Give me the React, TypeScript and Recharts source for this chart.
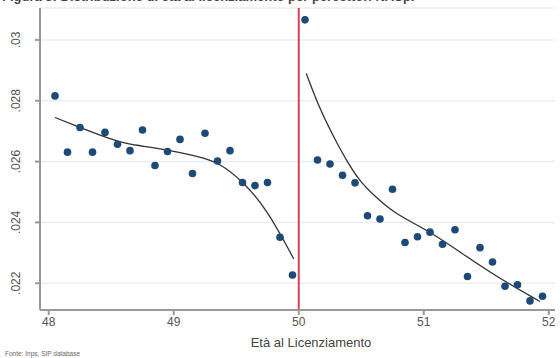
// Scatter per età al licenziamento, con fit ai due lati della soglia di 50 anni.
import { ComposedChart, CartesianGrid, Line, ReferenceLine, Scatter, XAxis, YAxis } from 'recharts';

const leftAges = [48.05, 48.15, 48.25, 48.35, 48.45, 48.55, 48.65, 48.75, 48.85, 48.95, 49.05, 49.15, 49.25, 49.35, 49.45, 49.55, 49.65, 49.75, 49.85, 49.95];
const leftValues = [0.02816, 0.02631, 0.02712, 0.02631, 0.02696, 0.02657, 0.02636, 0.02704, 0.02587, 0.02633, 0.02673, 0.02561, 0.02693, 0.02602, 0.02636, 0.02531, 0.02521, 0.02531, 0.02351, 0.02227];
const rightAges = [50.05, 50.15, 50.25, 50.35, 50.45, 50.55, 50.65, 50.75, 50.85, 50.95, 51.05, 51.15, 51.25, 51.35, 51.45, 51.55, 51.65, 51.75, 51.85, 51.95];
const rightValues = [0.03066, 0.02605, 0.02592, 0.02555, 0.0253, 0.02422, 0.02411, 0.02509, 0.02334, 0.02353, 0.02368, 0.02328, 0.02376, 0.02222, 0.02317, 0.0227, 0.0219, 0.02195, 0.02142, 0.02157];

// curve di fit
const fitLeftAges = [48.05, 48.2, 48.4, 48.6, 48.8, 48.95, 49.21, 49.36, 49.56, 49.75, 49.96];
const fitLeftValues = [0.02745, 0.0272, 0.02688, 0.02659, 0.02648, 0.02638, 0.02616, 0.02597, 0.02533, 0.0244, 0.0228];
const fitRightAges = [50.06, 50.16, 50.28, 50.4, 50.5, 50.6, 50.76, 51.03, 51.3, 51.56, 51.93];
const fitRightValues = [0.0289, 0.0278, 0.0268, 0.0259, 0.0253, 0.0249, 0.0243, 0.02375, 0.023, 0.02227, 0.0214];

const xTicks = [48, 49, 50, 51, 52];
const yTicks = [0.022, 0.024, 0.026, 0.028, 0.03];
const yLabels = ['.022', '.024', '.026', '.028', '.03'];

const points = [...leftAges.map((x, i) => ({ x, y: leftValues[i] })), ...rightAges.map((x, i) => ({ x, y: rightValues[i] }))];
const fitLeft = fitLeftAges.map((x, i) => ({ x, y: fitLeftValues[i] }));
const fitRight = fitRightAges.map((x, i) => ({ x, y: fitRightValues[i] }));

const font = '"Liberation Sans", Arial, sans-serif';

function YTick({ x, y, payload }: any) {
  const i = yTicks.indexOf(payload.value);
  const cx = x - 13;
  return (
    <text x={cx} y={y} transform={`rotate(-90, ${cx}, ${y})`} textAnchor="middle" fontSize={12} fill="#555" fontFamily={font}>
      {yLabels[i] ?? payload.value}
    </text>
  );
}

export default function App() {
  return (
    <div style={{ position: 'absolute', left: 0, top: 0, width: 560, height: 358, background: '#fff', overflow: 'hidden', fontFamily: font }}>
      <div style={{ position: 'absolute', left: 2, top: -11, fontSize: 13, fontWeight: 'bold', color: '#444', whiteSpace: 'nowrap' }}>
        Figura 3: Distribuzione di età al licenziamento per percettori NASpI
      </div>
      <ComposedChart width={560} height={358} margin={{ top: 8, right: 5, left: 0, bottom: 18 }}>
        <CartesianGrid vertical={false} horizontal stroke="#e8eff2" strokeWidth={1.5} />
        <XAxis
          type="number"
          dataKey="x"
          domain={[47.93, 52.05]}
          ticks={xTicks}
          allowDataOverflow
          height={30}
          tick={{ fontSize: 12, fill: '#555', fontFamily: font }}
          tickSize={5}
          stroke="#999"
          strokeWidth={2}
          tickMargin={2}
        />
        <YAxis
          type="number"
          dataKey="y"
          domain={[0.02112, 0.03105]}
          ticks={yTicks}
          allowDataOverflow
          width={40}
          tick={<YTick />}
          tickSize={5}
          stroke="#999"
          strokeWidth={2}
        />
        <ReferenceLine x={50} stroke="#d8405a" strokeWidth={2} />
        <Line data={fitLeft} dataKey="y" type="basis" stroke="#333" strokeWidth={1.3} dot={false} isAnimationActive={false} />
        <Line data={fitRight} dataKey="y" type="basis" stroke="#333" strokeWidth={1.3} dot={false} isAnimationActive={false} />
        <Scatter data={points} dataKey="y" fill="#1d4a78" isAnimationActive={false} shape={(p: any) => <circle cx={p.cx} cy={p.cy} r={3.8} fill="#1d4a78" />} />
        <text x={311} y={347} textAnchor="middle" fontSize={13} fill="#444" fontFamily={font}>Età al Licenziamento</text>
        <text x={5} y={356} fontSize={6.5} fill="#666" fontFamily={font}>Fonte: Inps, SIP database</text>
      </ComposedChart>
    </div>
  );
}
